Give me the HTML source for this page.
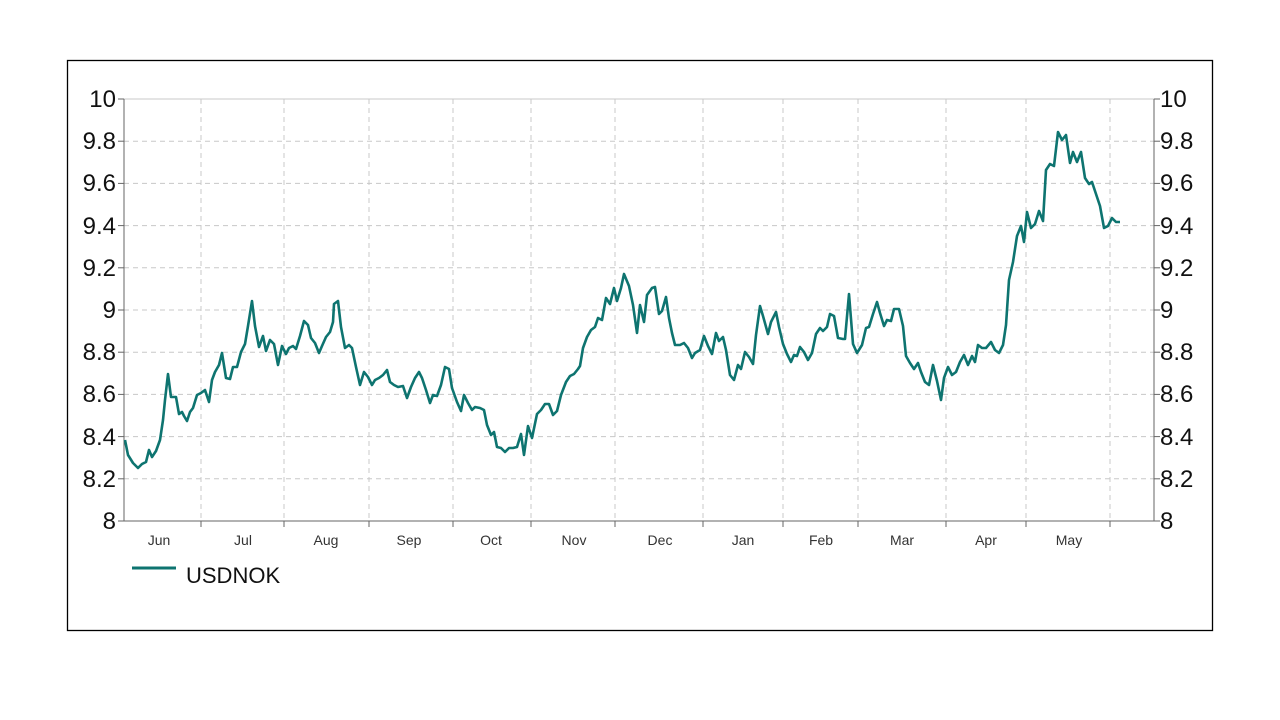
<!DOCTYPE html>
<html><head><meta charset="utf-8"><style>
body{margin:0;background:#fff;}
svg{display:block;font-family:"Liberation Sans",sans-serif;}
</style></head><body>
<svg width="1280" height="720" viewBox="0 0 1280 720">
<rect x="67.5" y="60.5" width="1145" height="570" fill="#fff" stroke="#000" stroke-width="1.3"/>
<g stroke="#c8c8c8" stroke-dasharray="5,4" stroke-width="1">
<line x1="124" x2="1154" y1="141.2" y2="141.2"/><line x1="124" x2="1154" y1="183.4" y2="183.4"/>
<line x1="124" x2="1154" y1="225.6" y2="225.6"/><line x1="124" x2="1154" y1="267.8" y2="267.8"/>
<line x1="124" x2="1154" y1="310" y2="310"/><line x1="124" x2="1154" y1="352.2" y2="352.2"/>
<line x1="124" x2="1154" y1="394.4" y2="394.4"/><line x1="124" x2="1154" y1="436.6" y2="436.6"/>
<line x1="124" x2="1154" y1="478.8" y2="478.8"/>
<line x1="201" x2="201" y1="99" y2="521"/><line x1="284" x2="284" y1="99" y2="521"/>
<line x1="369" x2="369" y1="99" y2="521"/><line x1="453" x2="453" y1="99" y2="521"/>
<line x1="531" x2="531" y1="99" y2="521"/><line x1="615" x2="615" y1="99" y2="521"/>
<line x1="703" x2="703" y1="99" y2="521"/><line x1="783" x2="783" y1="99" y2="521"/>
<line x1="858" x2="858" y1="99" y2="521"/><line x1="946" x2="946" y1="99" y2="521"/>
<line x1="1026" x2="1026" y1="99" y2="521"/><line x1="1110" x2="1110" y1="99" y2="521"/>
</g>
<line x1="124" x2="1154" y1="99" y2="99" stroke="#c8c8c8"/>
<g stroke="#666" stroke-width="1">
<line x1="124" x2="124" y1="99" y2="521"/><line x1="1154" x2="1154" y1="99" y2="521"/>
<line x1="124" x2="1154" y1="521" y2="521"/>
<g id="yt"><line x1="118" x2="124" y1="99" y2="99"/><line x1="118" x2="124" y1="141.2" y2="141.2"/><line x1="118" x2="124" y1="183.4" y2="183.4"/><line x1="118" x2="124" y1="225.6" y2="225.6"/><line x1="118" x2="124" y1="267.8" y2="267.8"/><line x1="118" x2="124" y1="310" y2="310"/><line x1="118" x2="124" y1="352.2" y2="352.2"/><line x1="118" x2="124" y1="394.4" y2="394.4"/><line x1="118" x2="124" y1="436.6" y2="436.6"/><line x1="118" x2="124" y1="478.8" y2="478.8"/><line x1="118" x2="124" y1="521" y2="521"/></g>
<g transform="translate(1036,0)"><use href="#yt"/></g>
<line x1="201" x2="201" y1="521" y2="527"/><line x1="284" x2="284" y1="521" y2="527"/><line x1="369" x2="369" y1="521" y2="527"/><line x1="453" x2="453" y1="521" y2="527"/><line x1="531" x2="531" y1="521" y2="527"/><line x1="615" x2="615" y1="521" y2="527"/><line x1="703" x2="703" y1="521" y2="527"/><line x1="783" x2="783" y1="521" y2="527"/><line x1="858" x2="858" y1="521" y2="527"/><line x1="946" x2="946" y1="521" y2="527"/><line x1="1026" x2="1026" y1="521" y2="527"/><line x1="1110" x2="1110" y1="521" y2="527"/>
</g>
<g font-size="24" fill="#111" text-anchor="end">
<text x="116" y="107">10</text><text x="116" y="149">9.8</text><text x="116" y="191">9.6</text><text x="116" y="234">9.4</text><text x="116" y="276">9.2</text><text x="116" y="318">9</text><text x="116" y="360">8.8</text><text x="116" y="402">8.6</text><text x="116" y="445">8.4</text><text x="116" y="487">8.2</text><text x="116" y="529">8</text>
</g>
<g font-size="24" fill="#111">
<text x="1160" y="107">10</text><text x="1160" y="149">9.8</text><text x="1160" y="191">9.6</text><text x="1160" y="234">9.4</text><text x="1160" y="276">9.2</text><text x="1160" y="318">9</text><text x="1160" y="360">8.8</text><text x="1160" y="402">8.6</text><text x="1160" y="445">8.4</text><text x="1160" y="487">8.2</text><text x="1160" y="529">8</text>
</g>
<g font-size="14" fill="#333" text-anchor="middle">
<text x="159" y="545">Jun</text><text x="243" y="545">Jul</text><text x="326" y="545">Aug</text><text x="409" y="545">Sep</text><text x="491" y="545">Oct</text><text x="574" y="545">Nov</text><text x="660" y="545">Dec</text><text x="743" y="545">Jan</text><text x="821" y="545">Feb</text><text x="902" y="545">Mar</text><text x="986" y="545">Apr</text><text x="1069" y="545">May</text>
</g>
<polyline fill="none" stroke="#0e7470" stroke-width="2.6" stroke-linejoin="round" points="125,440 128,455 133,463 138,468 142,464 146,462 149,450 152,457 156,451 160,440 163,420 165,400 168,374 171,397 176,397 179,414 182,412 184,416 187,421 190,412 193,408 197,395 201,393 205,390 209,402 212,380 215,372 219,365 222,353 226,378 230,379 233,367 237,367 241,352 245,344 248,326 252,301 255,326 259,347 263,336 266,351 270,340 274,344 278,365 282,346 286,354 289,348 293,346 296,349 300,336 304,321 308,325 311,338 315,343 319,353 322,346 326,337 330,332 333,322 334,304 338,301 341,327 345,348 349,345 352,348 356,367 360,385 364,372 368,377 372,385 375,380 379,378 383,375 387,370 390,382 394,385 398,387 403,386 407,398 411,387 415,378 419,372 422,378 426,390 430,403 433,395 437,396 441,385 445,367 449,369 452,388 457,402 461,411 464,395 468,403 472,410 475,407 480,408 484,410 487,425 491,435 494,432 497,447 501,448 505,452 509,448 513,448 517,447 521,434 524,455 528,426 532,438 537,414 541,410 545,404 549,404 553,415 557,411 561,395 566,382 570,376 574,374 578,369 580,366 583,348 587,337 591,330 595,327 598,318 602,320 606,298 610,304 614,288 617,301 621,288 624,274 629,286 633,305 637,333 640,305 644,322 647,295 652,288 655,287 659,314 662,311 666,297 669,318 672,333 675,345 680,345 684,343 688,348 692,358 695,353 700,350 704,336 708,346 712,354 716,333 719,341 723,337 726,350 730,375 734,380 738,365 741,369 745,352 749,357 753,364 756,335 760,306 763,316 768,334 771,322 776,312 779,327 783,344 787,354 791,362 794,355 797,356 800,347 804,352 808,360 812,353 816,334 820,328 823,331 827,327 830,314 834,316 838,338 843,339 845,339 849,294 853,344 857,353 862,345 866,328 869,327 873,314 877,302 880,313 884,326 887,320 891,321 894,309 899,309 903,326 906,356 910,363 914,369 918,363 921,372 925,382 929,385 933,365 937,381 941,400 944,378 948,367 952,375 956,372 960,362 964,355 968,365 972,356 975,362 978,345 982,348 986,348 991,342 995,350 999,353 1003,345 1006,325 1009,280 1013,262 1017,236 1021,226 1024,242 1027,212 1031,228 1035,224 1039,211 1043,221 1046,170 1050,164 1054,166 1058,132 1062,140 1066,135 1070,163 1073,152 1077,162 1081,152 1085,178 1089,184 1092,182 1096,194 1100,206 1104,228 1108,226 1112,218 1116,222 1120,222"/>
<line x1="132" x2="176" y1="568" y2="568" stroke="#0e7470" stroke-width="3"/>
<text x="186" y="583" font-size="22" fill="#111">USDNOK</text>
</svg>
</body></html>
